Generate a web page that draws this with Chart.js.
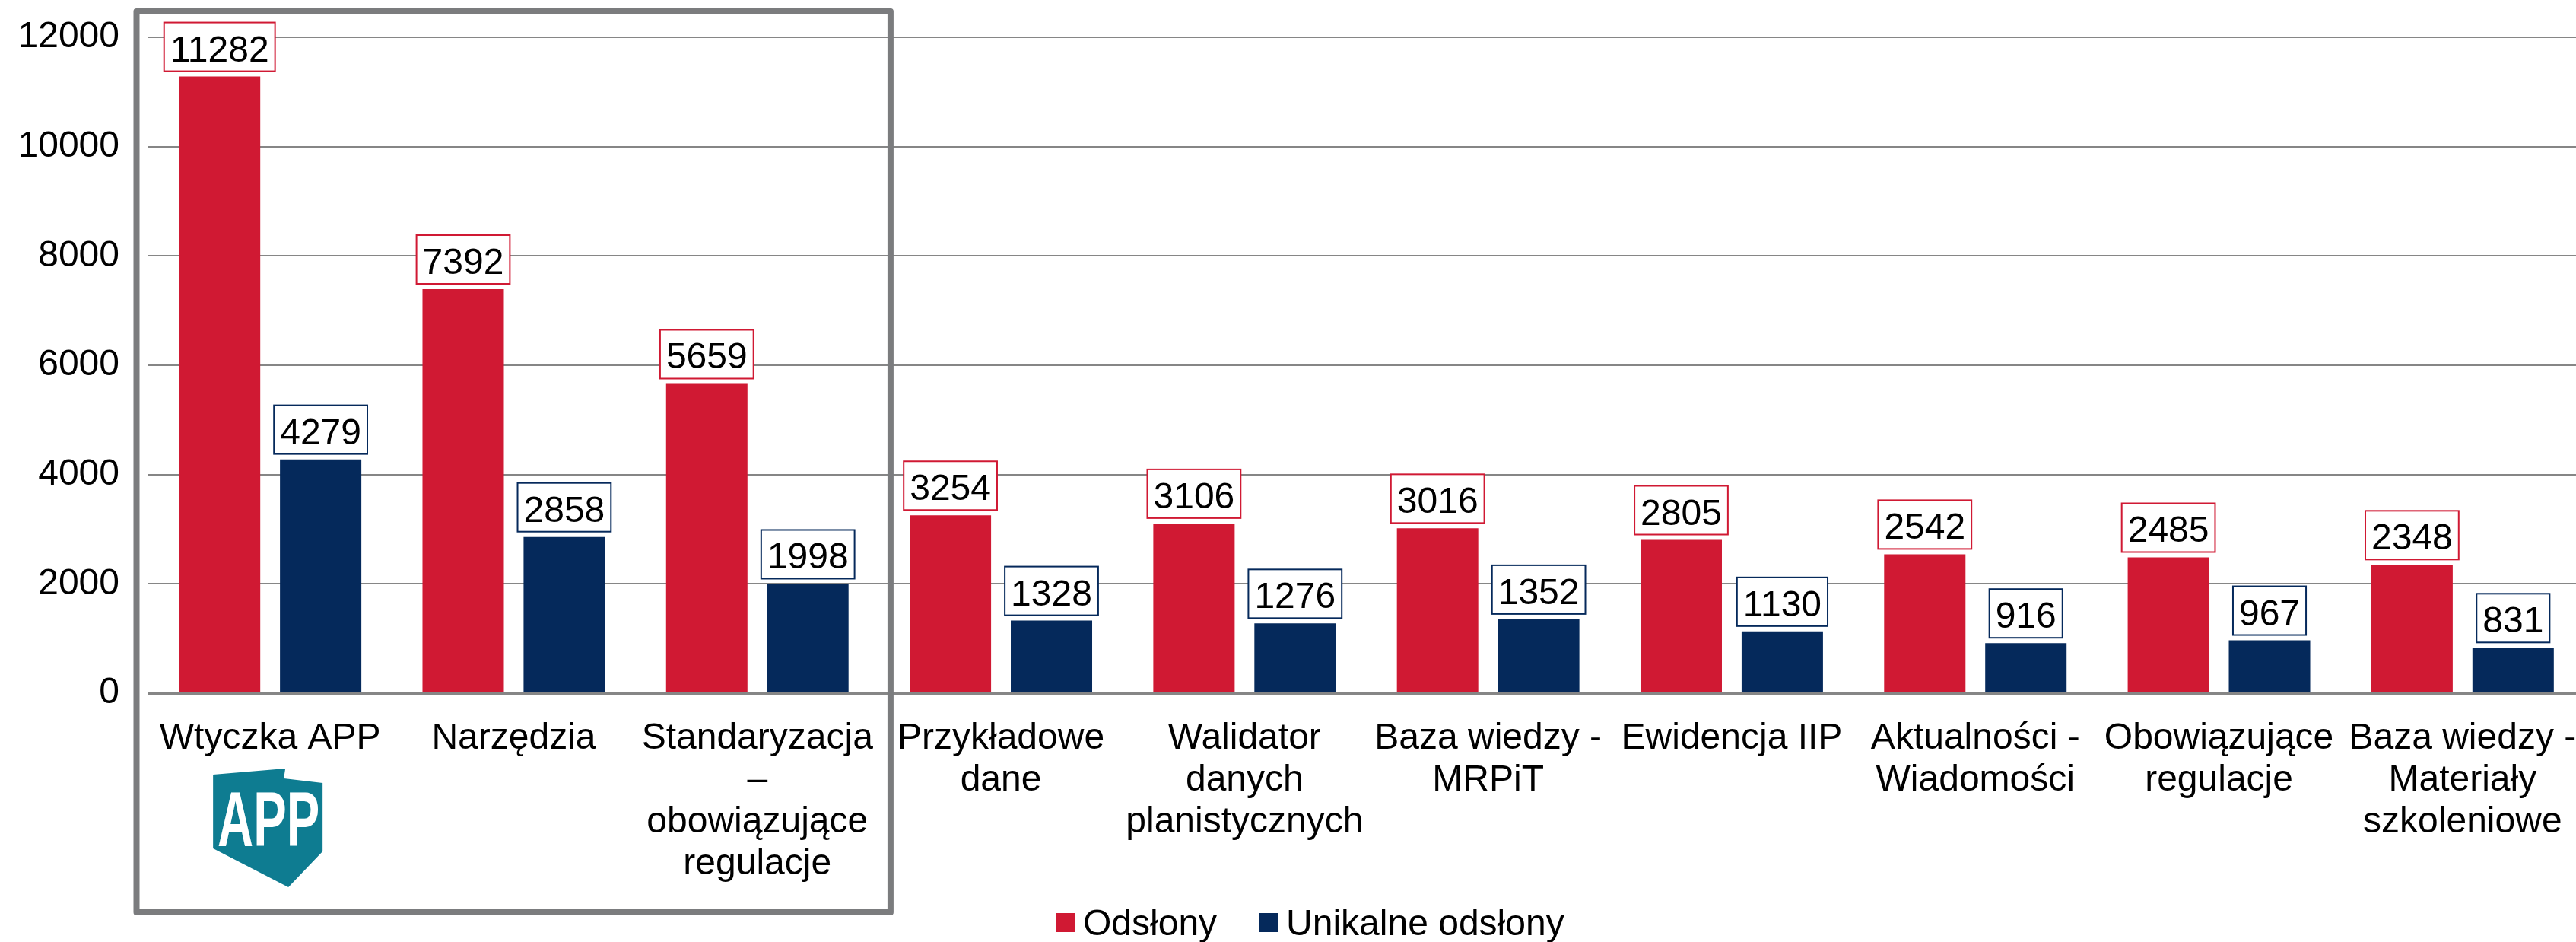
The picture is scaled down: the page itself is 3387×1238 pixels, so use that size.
<!DOCTYPE html>
<html lang="pl">
<head>
  <meta charset="UTF-8">
  <title>Odsłony i unikalne odsłony</title>
  <script src="https://cdn.jsdelivr.net/npm/chart.js"></script>
  <style>
    html, body { margin: 0; background: #fff; overflow: hidden; }
    canvas { display: block; }
  </style>
</head>
<body>
  <canvas id="viewsChart" width="3398" height="1238"></canvas>

  <script>
    const categories = [
      ['Wtyczka APP'],
      ['Narzędzia'],
      ['Standaryzacja', '–', 'obowiązujące', 'regulacje'],
      ['Przykładowe', 'dane'],
      ['Walidator', 'danych', 'planistycznych'],
      ['Baza wiedzy -', 'MRPiT'],
      ['Ewidencja IIP'],
      ['Aktualności -', 'Wiadomości'],
      ['Obowiązujące', 'regulacje'],
      ['Baza wiedzy -', 'Materiały', 'szkoleniowe']
    ];
    const views = [11282, 7392, 5659, 3254, 3106, 3016, 2805, 2542, 2485, 2348];
    const uniqueViews = [4279, 2858, 1998, 1328, 1276, 1352, 1130, 916, 967, 831];

    const RED = '#d01933';
    const NAVY = '#05295b';
    const FONT = '48px "Liberation Sans"';

    // Boxed value above each bar
    const valueBoxes = {
      id: 'valueBoxes',
      afterDatasetsDraw(chart) {
        const ctx = chart.ctx;
        ctx.save();
        ctx.font = FONT;
        ctx.textAlign = 'center';
        ctx.textBaseline = 'alphabetic';
        chart.data.datasets.forEach((ds, i) => {
          chart.getDatasetMeta(i).data.forEach((bar, j) => {
            const text = String(ds.data[j]);
            const w = ctx.measureText(text).width + 16;
            const bottom = bar.y - 7;
            ctx.fillStyle = '#fff';
            ctx.fillRect(bar.x - w / 2, bottom - 64, w, 64);
            ctx.strokeStyle = ds.backgroundColor;
            ctx.lineWidth = 2;
            ctx.strokeRect(bar.x - w / 2, bottom - 64, w, 64);
            ctx.fillStyle = '#000';
            ctx.fillText(text, bar.x, bottom - 13);
          });
        });
        ctx.restore();
      }
    };

    // Grey frame round the first three categories, APP logo, legend
    const extras = {
      id: 'extras',
      afterDraw(chart) {
        const ctx = chart.ctx;
        const x = chart.scales.x;
        const y = chart.scales.y;
        const step = x.getPixelForTick(1) - x.getPixelForTick(0);
        const left = x.getPixelForTick(0) - step / 2 - 15.5;
        const right = x.getPixelForTick(2) + step / 2 + 15;
        const top = y.getPixelForValue(12000) - 34;

        ctx.save();
        ctx.strokeStyle = '#7b7c7e';
        ctx.lineWidth = 8;
        ctx.lineJoin = 'round';
        ctx.strokeRect(left, top, right - left, 1199 - top);

        // logo
        const cx = x.getPixelForTick(0);
        ctx.fillStyle = '#0e7c91';
        ctx.beginPath();
        ctx.moveTo(cx - 75, 1018);
        ctx.lineTo(cx + 20, 1010);
        ctx.lineTo(cx + 18, 1023);
        ctx.lineTo(cx + 69, 1029);
        ctx.lineTo(cx + 69, 1119);
        ctx.lineTo(cx + 24, 1166);
        ctx.lineTo(cx - 75, 1115);
        ctx.closePath();
        ctx.fill();
        ctx.translate(cx - 2, 1112);
        ctx.scale(0.64, 1);
        ctx.fillStyle = '#fff';
        ctx.font = 'bold 102px "Liberation Sans"';
        ctx.textAlign = 'center';
        ctx.fillText('APP', 0, 0);
        ctx.restore();

        // legend
        ctx.save();
        ctx.font = FONT;
        ctx.textBaseline = 'alphabetic';
        let lx = 1388;
        chart.data.datasets.forEach(ds => {
          ctx.fillStyle = ds.backgroundColor;
          ctx.fillRect(lx, 1200, 25, 25);
          ctx.fillStyle = '#000';
          ctx.fillText(ds.label, lx + 36, 1229);
          lx += 36 + ctx.measureText(ds.label).width + 55;
        });
        ctx.restore();
      }
    };

    new Chart(document.getElementById('viewsChart').getContext('2d'), {
      type: 'bar',
      data: {
        labels: categories,
        datasets: [
          { label: 'Odsłony', data: views, backgroundColor: RED },
          { label: 'Unikalne odsłony', data: uniqueViews, backgroundColor: NAVY }
        ]
      },
      options: {
        responsive: false,
        animation: false,
        categoryPercentage: 0.83,
        barPercentage: 0.805,
        layout: { padding: { top: 49 } },
        plugins: {
          legend: { display: false },
          tooltip: { enabled: false }
        },
        scales: {
          x: {
            afterFit(scale) {
              scale.height = 327;
              scale.paddingLeft = 0;
              scale.paddingRight = 0;
            },
            grid: { display: false },
            border: { color: '#868686', width: 3 },
            ticks: {
              color: '#000',
              font: { family: 'Liberation Sans', size: 48, lineHeight: 1.146 },
              padding: 24,
              autoSkip: false,
              maxRotation: 0
            }
          },
          y: {
            min: 0,
            max: 12000,
            afterFit(scale) {
              scale.width = 195;
              scale.paddingTop = 0;
              scale.paddingBottom = 0;
            },
            grid: { color: '#868686', lineWidth: 2, drawTicks: false },
            border: { display: false },
            ticks: {
              stepSize: 2000,
              color: '#000',
              font: { family: 'Liberation Sans', size: 48 },
              padding: 38,
              callback: value => String(value)
            }
          }
        }
      },
      plugins: [valueBoxes, extras]
    });
  </script>
</body>
</html>
